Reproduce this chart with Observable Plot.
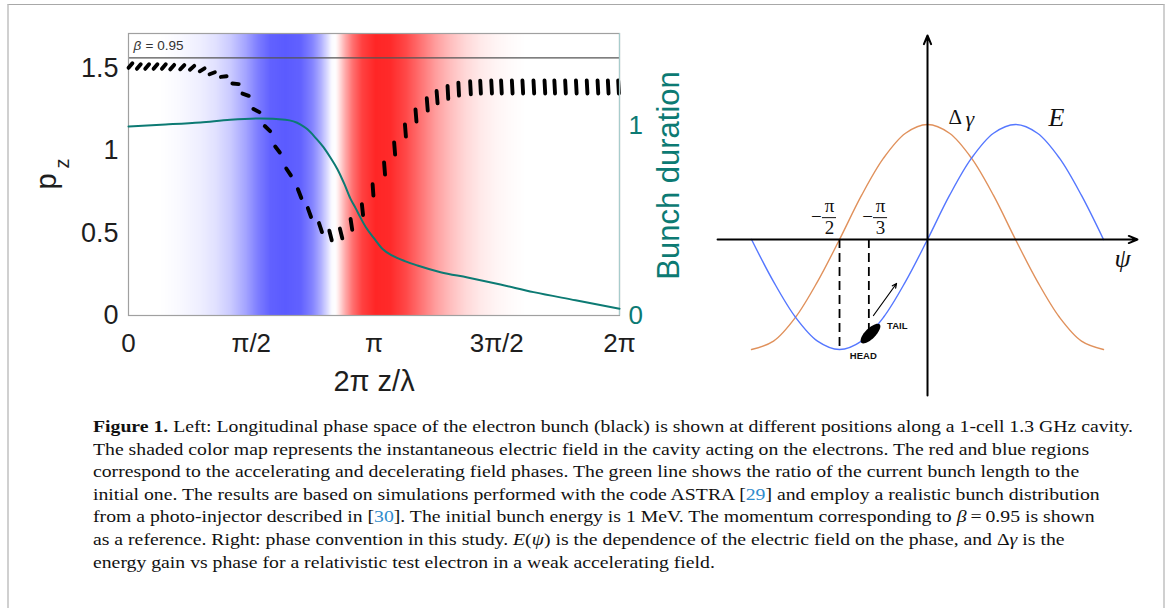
<!DOCTYPE html>
<html><head><meta charset="utf-8">
<script src="https://cdn.jsdelivr.net/npm/d3@7"></script>
<script src="https://cdn.jsdelivr.net/npm/@observablehq/plot@0.6"></script>
<style>
html,body{margin:0;padding:0;background:#fff;}
#page{position:relative;width:1167px;height:608px;overflow:hidden;background:#fff;}
#border{position:absolute;left:7px;top:4px;width:1154px;height:700px;border-top:1px solid #a8a8a8;border-left:2px solid #d0d0d0;border-right:2px solid #d0d0d0;}
.panel{position:absolute;top:0;}
.panel svg{position:absolute;left:0;top:0;}
#caption{position:absolute;left:93px;top:415px;font-family:"Liberation Serif","Times New Roman",serif;font-size:17.5px;line-height:22.6px;color:#111;white-space:nowrap;transform-origin:0 0;}
#caption .ref{color:#2f8ccc;}
</style></head><body>
<div id="page">
  <div id="border"></div>
  <div id="left" class="panel" style="left:0;width:700px;height:400px"></div>
  <div id="right" class="panel" style="left:700px;width:460px;height:410px"></div>
  <div id="caption">
    <div><span class="ln"><b>Figure 1.</b> Left: Longitudinal phase space of the electron bunch (black) is shown at different positions along a 1-cell 1.3 GHz cavity.</span></div>
    <div><span class="ln">The shaded color map represents the instantaneous electric field in the cavity acting on the electrons. The red and blue regions</span></div>
    <div><span class="ln">correspond to the accelerating and decelerating field phases. The green line shows the ratio of the current bunch length to the</span></div>
    <div><span class="ln">initial one. The results are based on simulations performed with the code ASTRA [<span class="ref">29</span>] and employ a realistic bunch distribution</span></div>
    <div><span class="ln">from a photo-injector described in [<span class="ref">30</span>]. The initial bunch energy is 1 MeV. The momentum corresponding to <i>β</i>&#8201;=&#8201;0.95 is shown</span></div>
    <div><span class="ln">as a reference. Right: phase convention in this study. <i>E</i>(<i>ψ</i>) is the dependence of the electric field on the phase, and Δ<i>γ</i> is the</span></div>
    <div><span class="ln">energy gain vs phase for a relativistic test electron in a weak accelerating field.</span></div>
  </div>
</div>
<script>
// ================= LEFT PANEL DATA =================
// x positions are in units of π (2π z/λ / π)
const xTickValues = [0, 0.5, 1, 1.5, 2];
const xTickLabels = ["0", "π/2", "π", "3π/2", "2π"];
const pTickValues = [0, 0.5, 1, 1.5];
const pTickLabels = ["0", "0.5", "1", "1.5"];
const durTickValues = [0, 1];
const durTickLabels = ["0", "1"];
const pDomain = [0, 1.709];
const durDomain = [0, 1.484];
const betaRefP = 1.561;

// instantaneous field seen by the bunch (negative = decelerating/blue, positive = accelerating/red)
const fieldX = [0, 0.130, 0.212, 0.293, 0.354, 0.415, 0.477, 0.530, 0.578, 0.639, 0.701, 0.749, 0.782, 0.807, 0.827, 0.843, 0.855, 0.884, 0.912, 0.953, 1.006, 1.067, 1.128, 1.189, 1.251, 1.312, 1.373, 1.434, 1.495, 1.556, 1.617, 2.0];
const fieldV = [0, 0, -0.04, -0.1, -0.18, -0.32, -0.55, -0.8, -0.96, -1, -0.96, -0.75, -0.5, -0.25, -0.03, 0, 0.1, 0.4, 0.65, 0.88, 1, 0.98, 0.85, 0.65, 0.45, 0.3, 0.18, 0.1, 0.05, 0.02, 0, 0];

// bunch duration (green line)
const durX = [0, 0.151, 0.293, 0.415, 0.538, 0.639, 0.701, 0.729, 0.762, 0.794, 0.823, 0.851, 0.880, 0.904, 0.925, 0.945, 0.969, 0.998, 1.035, 1.075, 1.128, 1.177, 1.271, 1.381, 1.515, 1.650, 1.821, 2.0];
const durY = [0.995, 1.005, 1.016, 1.03, 1.037, 1.03, 1.005, 0.98, 0.935, 0.886, 0.83, 0.77, 0.69, 0.615, 0.565, 0.515, 0.46, 0.41, 0.35, 0.315, 0.285, 0.263, 0.228, 0.2, 0.163, 0.123, 0.08, 0.035];

// phase-space snapshots of the bunch: centre (x, p) and half-extent (dx, dp)
const dashX = [0.008, 0.042, 0.076, 0.110, 0.144, 0.178, 0.219, 0.259, 0.300, 0.341, 0.388, 0.436, 0.477, 0.521, 0.566, 0.607, 0.652, 0.697, 0.737, 0.782, 0.823, 0.866, 0.908, 0.953, 0.996, 1.043, 1.084, 1.128, 1.171, 1.217, 1.257, 1.301, 1.345, 1.393, 1.434, 1.479, 1.519, 1.563, 1.606, 1.651, 1.696, 1.736, 1.780, 1.824, 1.868, 1.912, 1.954, 1.996];
const dashP = [1.515, 1.509, 1.509, 1.509, 1.509, 1.505, 1.505, 1.501, 1.489, 1.468, 1.448, 1.404, 1.338, 1.242, 1.133, 1.006, 0.870, 0.739, 0.624, 0.533, 0.485, 0.497, 0.552, 0.642, 0.761, 0.891, 1.012, 1.121, 1.212, 1.279, 1.323, 1.352, 1.372, 1.380, 1.384, 1.385, 1.385, 1.385, 1.385, 1.385, 1.385, 1.385, 1.385, 1.385, 1.385, 1.385, 1.385, 1.385];
const dashDX = [0.0078, 0.0078, 0.0078, 0.0078, 0.0078, 0.0080, 0.0084, 0.0088, 0.0098, 0.0108, 0.0116, 0.0128, 0.0128, 0.0120, 0.0108, 0.0094, 0.0094, 0.0069, 0.0065, 0.0061, 0.0049, 0.0049, 0.0033, 0.0024, 0.0016, 0.0020, 0.0020, 0.0020, 0.0020, 0.0020, 0.0020, 0.0014, 0.0014, 0.0014, 0.0014, 0.0014, 0.0014, 0.0014, 0.0014, 0.0014, 0.0014, 0.0014, 0.0014, 0.0014, 0.0014, 0.0014, 0.0014, 0.0014];
const dashDP = [0.0140, 0.0140, 0.0140, 0.0140, 0.0140, 0.0135, 0.0128, 0.0118, 0.0090, 0.0060, 0.0022, -0.0018, -0.0068, -0.0095, -0.0155, -0.0180, -0.0210, -0.0265, -0.0272, -0.0272, -0.0290, -0.0296, -0.0325, -0.0330, -0.0342, -0.0372, -0.0372, -0.0372, -0.0372, -0.0372, -0.0372, -0.0392, -0.0392, -0.0392, -0.0392, -0.0392, -0.0392, -0.0392, -0.0392, -0.0392, -0.0392, -0.0392, -0.0392, -0.0392, -0.0392, -0.0392, -0.0392, -0.0392];

// ================= RIGHT PANEL DATA =================
// ψ in units of π
const psi    = [-1, -0.875, -0.75, -0.625, -0.5, -0.375, -0.25, -0.125, 0, 0.125, 0.25, 0.375, 0.5, 0.625, 0.75, 0.875, 1];
const eField = [0, -0.383, -0.707, -0.924, -1, -0.924, -0.707, -0.383, 0, 0.383, 0.707, 0.924, 1, 0.924, 0.707, 0.383, 0];
const dGamma = [-1, -0.924, -0.707, -0.383, 0, 0.383, 0.707, 0.924, 1, 0.924, 0.707, 0.383, 0, -0.383, -0.707, -0.924, -1];
const phaseMarks = [-0.5, -1 / 3];
const phaseMarkDepth = [-1, -0.83];
const phaseMarkDen = ["2", "3"];
const psiAxis = [-1.193, 1.193];
const ampAxis = [-1.418, 1.774];
const bunchPos = {x: -0.324, y: -0.855};
const bunchArrow = {x1: -0.307, y1: -0.691, x2: -0.176, y2: -0.40};

// ================= LEFT PANEL =================
const teal = "#0c7a73";
const fieldRows = fieldX.flatMap((x, i) => [
  {x, y: pDomain[0], v: fieldV[i]},
  {x, y: pDomain[1], v: fieldV[i]}
]);
const dashRows = dashX.map((x, i) => ({
  x1: x - dashDX[i], y1: dashP[i] - dashDP[i],
  x2: x + dashDX[i], y2: dashP[i] + dashDP[i]
}));
const durRows = durX.map((x, i) => ({x, y: durY[i]}));

const common = {
  width: 700, height: 400,
  marginLeft: 128, marginRight: 81, marginTop: 33, marginBottom: 85,
};

const leftPlot = Plot.plot({
  ...common,
  style: {fontFamily: "'Liberation Sans', Arial, sans-serif", background: "transparent", color: "#1e1e1e"},
  x: {domain: [0, 2], label: null},
  y: {domain: pDomain, label: null},
  color: {type: "linear", domain: [-1, 0, 1], range: ["#5b5bff", "#ffffff", "#ff2626"]},
  marks: [
    Plot.raster(fieldRows, {x: "x", y: "y", fill: "v", interpolate: "barycentric"}),
    Plot.ruleY([betaRefP], {stroke: "#555", strokeWidth: 1.4}),
    Plot.frame({stroke: "#a0a0a0", strokeWidth: 1.2}),
    Plot.link(dashRows, {x1: "x1", y1: "y1", x2: "x2", y2: "y2", stroke: "black", strokeWidth: 3.9, strokeLinecap: "round"}),
    Plot.axisX({ticks: xTickValues, tickFormat: d => xTickLabels[xTickValues.indexOf(d)], tickSize: 0, tickPadding: 18, fontSize: 26, label: null}),
    Plot.axisY({ticks: pTickValues, tickFormat: d => pTickLabels[pTickValues.indexOf(d)], tickSize: 0, tickPadding: 10, fontSize: 27, label: null}),
    Plot.text(["2π z/λ"], {text: d => d, frameAnchor: "bottom", textAnchor: "middle", lineAnchor: "middle", dy: 66, fontSize: 29}),
    Plot.text(["p"], {text: d => d, frameAnchor: "left", textAnchor: "middle", lineAnchor: "middle", rotate: -90, dx: -82, dy: 7, fontSize: 29}),
    Plot.text(["z"], {text: d => d, frameAnchor: "left", textAnchor: "middle", lineAnchor: "middle", rotate: -90, dx: -66, dy: -11, fontSize: 20}),
    Plot.text(["β"], {text: d => d, frameAnchor: "top-left", textAnchor: "start", lineAnchor: "middle", dx: 5, dy: 12, fontSize: 13.5, fontStyle: "italic", fill: "#333"}),
    Plot.text(["= 0.95"], {text: d => d, frameAnchor: "top-left", textAnchor: "start", lineAnchor: "middle", dx: 17, dy: 12, fontSize: 13.5, fill: "#333"})
  ]
});

const durPlot = Plot.plot({
  ...common,
  style: {fontFamily: "'Liberation Sans', Arial, sans-serif", background: "transparent", color: teal},
  x: {domain: [0, 2], axis: null},
  y: {domain: durDomain, label: null},
  marks: [
    Plot.ruleX([2], {stroke: "#a8cccc", strokeWidth: 1.2}),
    Plot.line(durRows, {x: "x", y: "y", stroke: teal, strokeWidth: 2, curve: "monotone-x"}),
    Plot.axisY({anchor: "right", ticks: durTickValues, tickFormat: d => durTickLabels[durTickValues.indexOf(d)], tickSize: 0, tickPadding: 9, fontSize: 26, fill: teal, label: null}),
    Plot.text(["Bunch duration"], {text: d => d, frameAnchor: "right", textAnchor: "middle", lineAnchor: "middle", rotate: -90, dx: 50, dy: 1, fontSize: 31, fill: teal})
  ]
});
durPlot.style.pointerEvents = "none";
document.getElementById("left").append(leftPlot, durPlot);

// ================= RIGHT PANEL =================
const ellipseSymbol = {
  draw(context) {
    const a = 13, b = 5.2, k = 0.5523;
    context.moveTo(a, 0);
    context.bezierCurveTo(a, k * b, k * a, b, 0, b);
    context.bezierCurveTo(-k * a, b, -a, k * b, -a, 0);
    context.bezierCurveTo(-a, -k * b, -k * a, -b, 0, -b);
    context.bezierCurveTo(k * a, -b, a, -k * b, a, 0);
    context.closePath();
  }
};
const eRows = psi.map((x, i) => ({x, y: eField[i]}));
const gRows = psi.map((x, i) => ({x, y: dGamma[i]}));
const markRows = phaseMarks.map((x, i) => ({x, y1: 0, y2: phaseMarkDepth[i]}));
const fracX = [-0.557, -0.267];
const fracRows = fracX.map((x, i) => ({x, den: phaseMarkDen[i]}));

const rightPlot = Plot.plot({
  width: 460, height: 410, margin: 0,
  style: {fontFamily: "'Liberation Serif', 'Times New Roman', serif", background: "transparent", color: "#111"},
  x: {domain: [-1.290, 1.324], axis: null},
  y: {type: "linear", domain: [-1, 0, 1], range: [349, 239, 124], axis: null},
  marks: [
    Plot.line(gRows, {x: "x", y: "y", stroke: "#e0915c", strokeWidth: 1.4, curve: "catmull-rom"}),
    Plot.line(eRows, {x: "x", y: "y", stroke: "#5577ff", strokeWidth: 1.4, curve: "catmull-rom"}),
    Plot.arrow([{x1: psiAxis[0], y1: 0, x2: psiAxis[1], y2: 0}, {x1: 0, y1: ampAxis[0], x2: 0, y2: ampAxis[1]}],
      {x1: "x1", y1: "y1", x2: "x2", y2: "y2", stroke: "black", strokeWidth: 2, headLength: 7, headAngle: 45}),
    Plot.ruleX(markRows, {x: "x", y1: "y1", y2: "y2", stroke: "black", strokeWidth: 1.8, strokeDasharray: "9,5"}),
    Plot.dot([bunchPos], {x: "x", y: "y", symbol: ellipseSymbol, r: 5, fill: "black", stroke: "none", rotate: -45}),
    Plot.arrow([bunchArrow], {x1: "x1", y1: "y1", x2: "x2", y2: "y2", stroke: "black", strokeWidth: 1.2, headLength: 6, headAngle: 50}),
    Plot.text(["TAIL"], {text: d => d, x: -0.172, y: -0.79, fontFamily: "'Liberation Sans', Arial, sans-serif", fontWeight: "bold", fontSize: 9.5}),
    Plot.text(["HEAD"], {text: d => d, x: -0.365, y: -1.058, fontFamily: "'Liberation Sans', Arial, sans-serif", fontWeight: "bold", fontSize: 9.5}),
    Plot.text(["Δ"], {text: d => d, x: 0.158, y: 1.065, fontSize: 21}),
    Plot.text(["γ"], {text: d => d, x: 0.24, y: 1.05, fontSize: 22, fontStyle: "italic"}),
    Plot.text(["E"], {text: d => d, x: 0.733, y: 1.061, fontSize: 26, fontStyle: "italic"}),
    Plot.text(["ψ"], {text: d => d, x: 1.108, y: -0.17, fontSize: 26, fontStyle: "italic"}),
    // fraction labels −π/2 and −π/3
    Plot.text(fracRows, {text: () => "−", x: d => d.x - 0.074, y: 0.194, fontSize: 19}),
    Plot.text(fracRows, {text: () => "π", x: "x", y: 0.29, fontSize: 19}),
    Plot.text(fracRows, {text: "den", x: "x", y: 0.098, fontSize: 19}),
    Plot.ruleY(fracRows, {y: 0.19, x1: d => d.x - 0.04, x2: d => d.x + 0.04, stroke: "#111", strokeWidth: 1})
  ]
});
document.getElementById("right").append(rightPlot);

// ================= CAPTION FIT =================
const cap = document.getElementById("caption");
const first = cap.querySelector(".ln");
const w = first.getBoundingClientRect().width;
cap.style.transform = `scaleX(${1040 / w})`;
</script>
</body></html>
